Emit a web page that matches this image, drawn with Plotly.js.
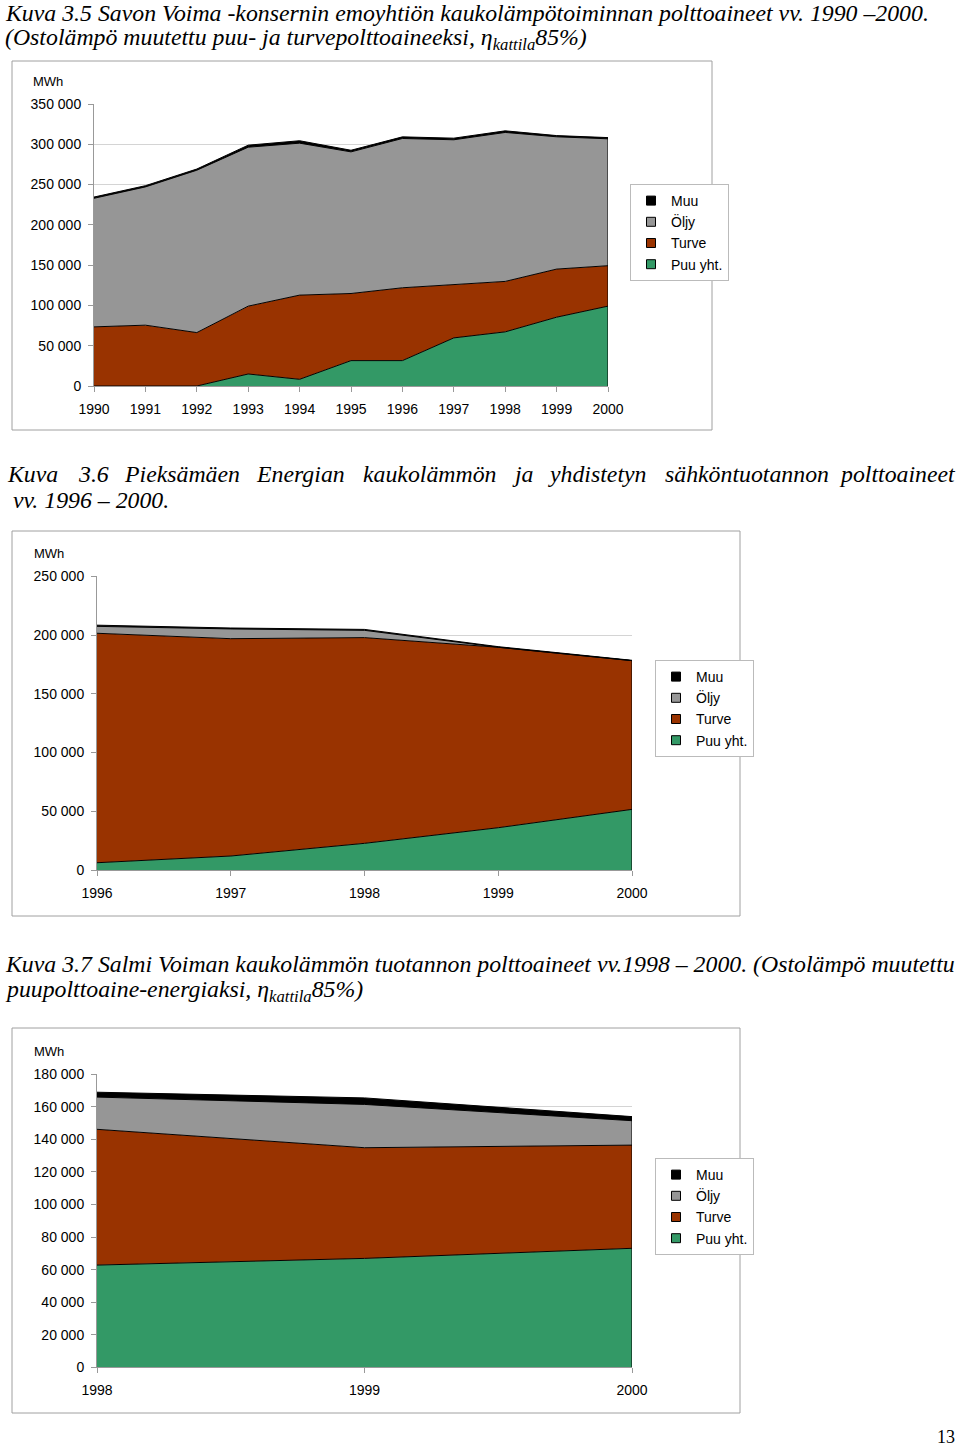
<!DOCTYPE html>
<html><head><meta charset="utf-8">
<script src="https://cdn.plot.ly/plotly-3.0.1.min.js"></script>
<style>html,body{margin:0;padding:0;background:#fff}#g{width:960px;height:1446px}</style>
</head><body><div id="g"></div>
<script>
// ---- Data ----
const years1 = [1990,1991,1992,1993,1994,1995,1996,1997,1998,1999,2000];
const puu1   = [0,0,0,14900,8300,31500,31500,59700,67200,85400,99100];
const turve1 = [73400,75500,66300,84200,104500,83300,90400,65900,62600,59700,50200];
const oljy1  = [159600,171600,201500,197300,188600,175800,185300,180000,184900,164200,157500];
const muu1   = [1500,1500,1500,2500,3000,2000,2000,2000,2000,1500,1500];

const years2 = [1996,1997,1998,1999,2000];
const puu2   = [6200,11900,22700,36000,51600];
const turve2 = [195300,185000,175100,153600,126600];
const oljy2  = [5900,8300,6200,0,0];
const muu2   = [1000,800,800,500,300];

const years3 = [1998,1999,2000];
const puu3   = [62800,66900,73100];
const turve3 = [83400,68000,63400];
const oljy3  = [19800,26600,15000];
const muu3   = [3000,4000,2500];

const seriesNames = ['Puu yht.','Turve','Öljy','Muu'];
const colors = ['#339966','#993300','#969696','#000000'];

const W = 960, H = 1446;
const px = x => x / W;
const py = y => 1 - y / H;

const traces = [];
function addChart(idx, years, series) {
  const xa = idx === 1 ? 'x' : 'x' + idx;
  const ya = idx === 1 ? 'y' : 'y' + idx;
  const lg = idx === 1 ? 'legend' : 'legend' + idx;
  series.forEach((vals, i) => {
    traces.push({
      type: 'scatter', mode: 'lines', x: years, y: vals,
      stackgroup: 'c' + idx, name: seriesNames[i],
      line: {color: '#000', width: 1}, fillcolor: colors[i],
      xaxis: xa, yaxis: ya, showlegend: false, hoverinfo: 'skip'
    });
  });
  // right edge of the area
  const last = years.length - 1;
  const total = series.reduce((s, v) => s + v[last], 0);
  traces.push({type:'scatter', mode:'lines', x:[years[last], years[last]], y:[0,total],
    line:{color:'#000', width:1}, xaxis: xa, yaxis: ya, showlegend:false, hoverinfo:'skip'});
  // legend entries (top to bottom: Muu, Öljy, Turve, Puu yht.)
  for (let i = series.length - 1; i >= 0; i--) {
    traces.push({type:'scatter', mode:'markers', x:[null], y:[null], name: seriesNames[i],
      marker:{symbol:'square', size:9, color: colors[i], line:{color:'#000', width:1}},
      xaxis: xa, yaxis: ya, legend: lg, showlegend: true});
  }
}
addChart(1, years1, [puu1, turve1, oljy1, muu1]);
addChart(2, years2, [puu2, turve2, oljy2, muu2]);
addChart(3, years3, [puu3, turve3, oljy3, muu3]);

const tickFont = {family: 'Liberation Sans, Arial, sans-serif', size: 14, color: '#000'};
function xAxis(years, x0, x1) {
  return {domain:[px(x0), px(x1)], range:[years[0], years[years.length-1]],
    tickvals: years, ticktext: years.map(String), ticks:'outside', ticklen:5, tickcolor:'#999',
    showline:true, linecolor:'#999', showgrid:false, zeroline:false, tickfont: tickFont,
    ticklabelstandoff: 5, fixedrange:true};
}
function yAxis(max, dtick, y0, y1, anchor) {
  return {domain:[py(y1), py(y0)], range:[0, max], dtick: dtick, tickformat:',d',
    ticks:'outside', ticklen:5, tickcolor:'#999', showline:true, linecolor:'#999',
    showgrid:true, gridcolor:'#d4d4d4', zeroline:false, tickfont: tickFont,
    ticklabelstandoff: 4, anchor: anchor, fixedrange:true};
}

const serif = 'Liberation Serif, Times New Roman, serif';
const tFont = {family: serif, size: 23.8, color: '#000', style: 'italic'};
const ann = [];
function txt(text, x, y, opts) {
  ann.push(Object.assign({text, x: px(x), y: py(y), xref:'paper', yref:'paper',
    xanchor:'left', yanchor:'middle', showarrow:false, font: tFont}, opts || {}));
}
// Chart 1 title
txt('Kuva 3.5 Savon Voima -konsernin emoyhtiön kaukolämpötoiminnan polttoaineet vv. 1990 –2000.', 3, 13);
txt('(Ostolämpö muutettu puu- ja turvepolttoaineeksi, η<sub>kattila</sub>85%)', 3, 39);
// Chart 2 title (justified line)
const words2 = ['Kuva','3.6','Pieksämäen','Energian','kaukolämmön','ja','yhdistetyn','sähköntuotannon','polttoaineet'];
const wordX2 = [5,76,122,254,361,510,546,663,958];
words2.forEach((w, i) => txt(w, wordX2[i], 474, i === words2.length - 1 ? {xanchor:'right'} : {}));
txt('vv. 1996 – 2000.', 11, 500);
// Chart 3 title
txt('Kuva 3.7 Salmi Voiman kaukolämmön tuotannon polttoaineet vv.1998 – 2000. (Ostolämpö muutettu', 3, 964);
txt('puupolttoaine-energiaksi, η<sub>kattila</sub>85%)', 3, 991);
// MWh labels
const mwhFont = {family:'Liberation Sans, Arial, sans-serif', size:13, color:'#000'};
txt('MWh', 31, 81, {font: mwhFont});
txt('MWh', 32, 553, {font: mwhFont});
txt('MWh', 32, 1051, {font: mwhFont});
// page number
txt('13', 957, 1437, {xanchor:'right', font:{family: serif, size:18, color:'#000'}});

const frame = (x0,y0,x1,y1) => ({type:'rect', xref:'paper', yref:'paper', x0:px(x0), x1:px(x1),
  y0:py(y0), y1:py(y1), line:{color:'#a0a0a0', width:1}, fillcolor:'rgba(0,0,0,0)', layer:'below'});

const legendBase = (x, y) => ({x: px(x), y: py(y), xanchor:'left', yanchor:'top', traceorder:'normal',
  bgcolor:'#fff', bordercolor:'#bbb', borderwidth:1, font:{family:'Liberation Sans, Arial, sans-serif', size:14, color:'#000'},
  itemwidth:30, tracegroupgap:0});

const layout = {
  width: W, height: H, margin:{l:0,r:0,t:0,b:0}, paper_bgcolor:'#fff', plot_bgcolor:'rgba(0,0,0,0)',
  separators: ', ', showlegend: true, hovermode: false,
  xaxis: xAxis(years1, 94, 608), yaxis: yAxis(350000, 50000, 104, 386, 'x'),
  xaxis2: Object.assign(xAxis(years2, 97, 632), {anchor:'y2'}), yaxis2: yAxis(250000, 50000, 576.3, 870, 'x2'),
  xaxis3: Object.assign(xAxis(years3, 97, 632), {anchor:'y3'}), yaxis3: yAxis(180000, 20000, 1074.3, 1367.3, 'x3'),
  legend: legendBase(630, 184), legend2: legendBase(655, 660), legend3: legendBase(655, 1158),
  annotations: ann,
  shapes: [frame(12,61,712,430), frame(12,531,740,916), frame(12,1028,740,1413)]
};
layout.xaxis.anchor = 'y';

Plotly.newPlot('g', traces, layout, {staticPlot: true, displayModeBar: false});
</script></body></html>
